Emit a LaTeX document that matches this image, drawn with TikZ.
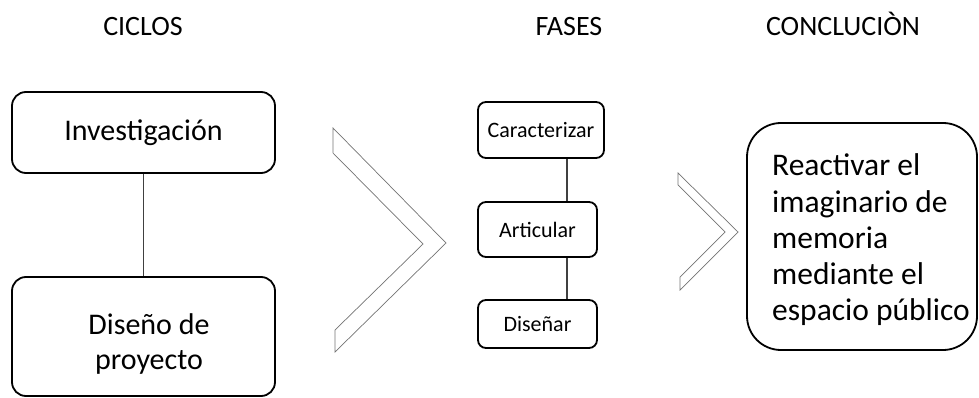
\documentclass[tikz,border=0pt]{standalone}
\usepackage{fontspec}
\setmainfont{Carlito}
\begin{document}
\begin{tikzpicture}[x=1pt,y=-1pt,
  box/.style={draw=black,line width=1.8pt,rounded corners=14pt,inner sep=0pt},
  link/.style={draw=black!75,line width=1.2pt},
  chev/.style={draw=black!55,line width=0.7pt,line join=miter},
  head/.style={font=\fontsize{28}{34}\selectfont,anchor=base,inner sep=0pt},
  big/.style={font=\fontsize{30}{36}\selectfont},
  mid/.style={font=\fontsize{22}{26}\selectfont}]
\useasboundingbox (0,0) rectangle (979,398);
% headers
\node[head] (h1) at (143,36) {CICLOS};
\node[head] (h2) at (569,36) {FASES};
\node[head] (h3) at (843,36) {CONCLUCIÒN};
% ciclos
\node[box,big,minimum width=263pt,minimum height=81pt] (inv) at (143.5,132.5) {Investigación};
\node[box,minimum width=263pt,minimum height=119pt] (dis) at (143.5,336.5) {};
\node[align=center,inner sep=0pt,font=\fontsize{30}{35}\selectfont] (dist) at (149,344) {Diseño de\\proyecto};
\draw[link] (inv.south) -- (dis.north);
% fases
\node[box,mid,rounded corners=8pt,minimum width=126pt,minimum height=56pt] (car) at (541,130) {Caracterizar};
\node[box,mid,rounded corners=8pt,minimum width=119pt,minimum height=55pt] (art) at (537.5,229.5) {Articular};
\node[box,mid,rounded corners=8pt,minimum width=119pt,minimum height=48pt] (dsn) at (537.5,324) {Diseñar};
\coordinate (lx) at (567,0);
\draw[link] (car.south -| lx) -- (art.north -| lx);
\draw[link] (art.south -| lx) -- (dsn.north -| lx);
% conclusion
\node[box,rounded corners=34pt,minimum width=230pt,minimum height=227pt] (con) at (862,236.5) {};
\node[anchor=west,align=left,inner sep=0pt,font=\fontsize{31.5}{36.25}\selectfont] (cont) at (772,240) {Reactivar el\\imaginario de\\memoria\\mediante el\\espacio público};
% chevrons
\draw[chev] (333,128) -- (446,243) -- (335,352) -- (335,330) -- (423,244) -- (333,153) -- cycle;
\draw[chev] (678,173) -- (738,232) -- (680,290) -- (680,277) -- (725,232) -- (678,185) -- cycle;
\end{tikzpicture}
\end{document}
